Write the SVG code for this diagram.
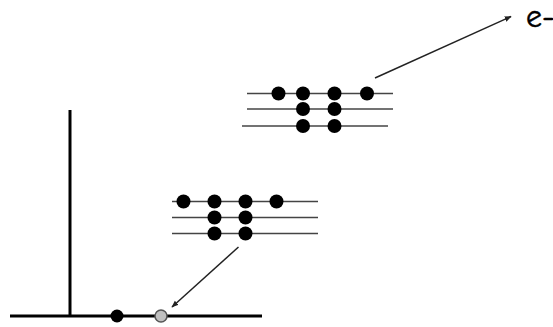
<svg xmlns="http://www.w3.org/2000/svg" width="553" height="327" viewBox="0 0 553 327">
<style>
.lvl{stroke:#444;stroke-width:1.6;fill:none}
.e{fill:#000}
.ax{stroke:#000;stroke-width:3;fill:none}
.arr{stroke:#222;stroke-width:1.5;fill:none;marker-end:url(#ah)}
.lbl{font-family:"Comic Neue","Liberation Sans",sans-serif;font-size:32px;fill:#000;stroke:#000;stroke-width:0.5}
</style>
<defs>
<marker id="ah" viewBox="0 0 10 10" refX="9" refY="5" markerWidth="7" markerHeight="7" orient="auto" markerUnits="userSpaceOnUse">
<path d="M0,1 L10,5 L0,9 z" fill="#222"/>
</marker>
</defs>
<rect width="553" height="327" fill="#fff"/>
<g id="axes">
<line class="ax" x1="70" y1="110" x2="70" y2="316"/>
<line class="ax" x1="10" y1="316" x2="262" y2="316"/>
<circle class="e" cx="117" cy="316" r="6.5"/>
<circle cx="161" cy="316" r="6" fill="#c0c0c0" stroke="#555" stroke-width="1.5"/>
</g>
<g id="upper-atom">
<line class="lvl" x1="247" y1="93.5" x2="393" y2="93.5"/>
<line class="lvl" x1="247" y1="109" x2="393" y2="109"/>
<line class="lvl" x1="242" y1="126" x2="388" y2="126"/>
<circle class="e" cx="278.5" cy="93.5" r="7"/>
<circle class="e" cx="303" cy="93.5" r="7"/>
<circle class="e" cx="334.5" cy="93.5" r="7"/>
<circle class="e" cx="367" cy="93.5" r="7"/>
<circle class="e" cx="303" cy="109" r="7"/>
<circle class="e" cx="334.5" cy="109" r="7"/>
<circle class="e" cx="303" cy="126" r="7"/>
<circle class="e" cx="334.5" cy="126" r="7"/>
</g>
<g id="lower-atom">
<line class="lvl" x1="172" y1="201.5" x2="318" y2="201.5"/>
<line class="lvl" x1="172" y1="217.5" x2="318" y2="217.5"/>
<line class="lvl" x1="172" y1="233.5" x2="318" y2="233.5"/>
<circle class="e" cx="183.5" cy="201.5" r="7"/>
<circle class="e" cx="214.5" cy="201.5" r="7"/>
<circle class="e" cx="245.5" cy="201.5" r="7"/>
<circle class="e" cx="276.5" cy="201.5" r="7"/>
<circle class="e" cx="214.5" cy="217.5" r="7"/>
<circle class="e" cx="245.5" cy="217.5" r="7"/>
<circle class="e" cx="214.5" cy="233.5" r="7"/>
<circle class="e" cx="245.5" cy="233.5" r="7"/>
</g>
<g id="label-e">
<text class="lbl" x="526" y="27">e-</text>
</g>
<g id="connectors">
<line class="arr" x1="375" y1="78" x2="511" y2="16.5"/>
<line class="arr" x1="238.5" y1="247" x2="172" y2="307"/>
</g>
</svg>
